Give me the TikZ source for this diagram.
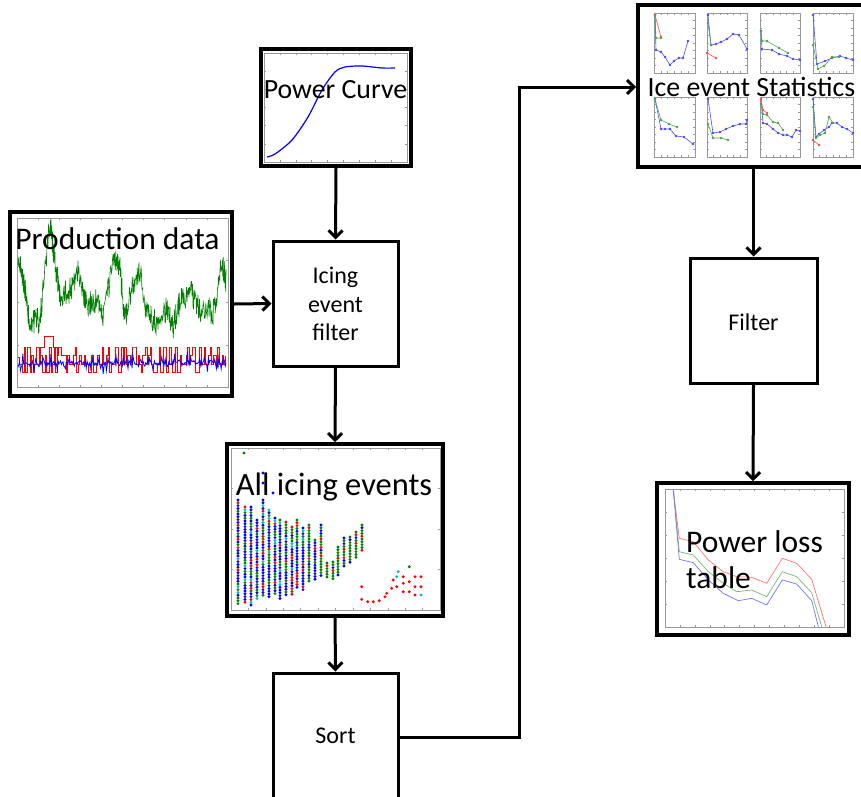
\documentclass[tikz,border=0pt]{standalone}
\usepackage{fontspec}
\setmainfont{Carlito}
\usetikzlibrary{arrows.meta}
\definecolor{pb}{rgb}{0,0,1}
\definecolor{pg}{rgb}{0,0.5,0}
\definecolor{pr}{rgb}{1,0,0}
\definecolor{pc}{rgb}{0,0.75,0.75}
\definecolor{framegray}{gray}{0.6}
\newcommand{\plotframe}[6]{%
  \draw[framegray,line width=0.6pt] (#1,#2) rectangle (#3,#4);
  \foreach \i in {1,...,#5}{%
    \pgfmathsetmacro\tx{#1+\i*(#3-#1)/(#5+1)}%
    \draw[framegray,line width=0.5pt] (\tx,#2) -- ++(0,2) (\tx,#4) -- ++(0,-2);}
  \foreach \i in {1,...,#6}{%
    \pgfmathsetmacro\ty{#2+\i*(#4-#2)/(#6+1)}%
    \draw[framegray,line width=0.5pt] (#1,\ty) -- ++(2,0) (#3,\ty) -- ++(-2,0);}
}
\tikzset{
  picbox/.style={draw=black,line width=3.6pt,rectangle,inner sep=0pt},
  procbox/.style={draw=black,line width=3pt,rectangle,inner sep=0pt,minimum width=125pt,minimum height=125pt},
  conn/.style={draw=black,line width=3pt,-{Straight Barb[length=7pt,width=14pt]}},
  bigtext/.style={inner sep=0pt,anchor=base,font=\fontsize{32}{36}\selectfont},
  smalltext/.style={inner sep=0pt,anchor=base,font=\fontsize{24}{29}\selectfont,align=center},
  mk/.style={mark=*,mark size=0.9pt}
}
\pgfmathsetseed{4242}
\pgfmathdeclarerandomlist{mix}{{pb}{pb}{pb}{pb}{pb}{pb}{pg}{pg}{pr}{pc}}
\pgfmathdeclarerandomlist{grn}{{pg}{pg}{pg}{pg}{pb}{pr}}
\begin{document}
\begin{tikzpicture}[x=1pt,y=-1pt]
\useasboundingbox (0,0) rectangle (861,796);

% ---------- Power Curve plot ----------
\plotframe{264}{53}{407}{162}{8}{5}
\draw[pb,line width=1.2pt] plot[smooth] coordinates {(267,157) (275,154) (292,140) (308,117) (322,90) (335,72) (345,67) (362,66) (382,68) (395,68)};

% ---------- Production data plot ----------
\plotframe{17}{218}{228}{387}{9}{3}
\draw[pg,line width=0.6pt] (18,257)
  \foreach \xa/\ya/\xb/\yb in {18/257/25/290,25/290/30/323,30/323/40/320,40/320/50/222,50/222/55/263,55/263/60/297,60/297/70/290,70/290/78/273,78/273/87/307,87/307/95/300,95/300/103/313,103/313/115/257,115/257/120/270,120/270/125/320,125/320/133/283,133/283/140/273,140/273/147/313,147/313/157/323,157/323/167/307,167/307/173/327,173/327/180/300,180/300/190/290,190/290/200/310,200/310/213/313,213/313/222/263,222/263/226/280}{
    \foreach \t in {0.05,0.1,...,1.01}{ -- ({\xa+\t*(\xb-\xa)},{\ya+\t*(\yb-\ya)+13*rand}) } };
\draw[pr,line width=0.6pt] (18,357)
  \foreach \i in {1,...,138}{ -| ({18+1.5*\i},{347+8.5*random(0,3)}) };
\draw[pr,line width=0.6pt] (40,357) -- (40,347) -- (44,347) -- (44,336) -- (53,336) -- (53,347) -- (57,347) -- (57,357);
\draw[pb,line width=0.8pt] plot[domain=18:226,samples=260] (\x,{363+2.5*rand+14*rand*rand*rand});

% ---------- All icing events scatter ----------
\plotframe{231}{448}{440}{610}{11}{3}
\foreach \cx/\ya/\yb/\lst in {238/500/605/mix,245/507/605/mix,251/507/606/mix,257/520/600/mix,263/500/597/mix,269/510/597/mix,275/518/595/mix,280/520/600/mix,286/522/597/mix,292/527/595/mix,297/520/590/mix,303/528/590/mix,309/525/582/grn,315/540/580/mix,321/525/577/grn,327/563/578/grn,333/562/580/grn,338/547/577/grn,344/538/568/grn,350/537/565/grn,356/532/560/grn,362/525/553/grn}{
  \pgfmathtruncatemacro\nn{(\yb-\ya)/2.8}
  \foreach \k in {0,...,\nn}{
    \pgfmathrandomitem{\cc}{\lst}
    \fill[\cc] (\cx,{\ya+2.8*\k}) circle (1.6pt);
  }
}
\foreach \px/\py/\cc in {244/453/pg,263/473/pb,263/483/pb,273/493/pb,238/492/pg,361.7/586.7/pr,361.7/599.3/pr,367.7/601.7/pr,373.3/601.7/pr,379.3/600.7/pr,385/596.7/pr,386.7/593.3/pr,391.7/588.3/pr,393.3/580/pr,396.7/586.7/pr,398.3/571.7/pc,396.7/576.7/pc,403.3/583.3/pr,403.3/576.7/pr,403.3/591.7/pr,409.3/566.7/pg,409.3/581.7/pr,409.3/591.7/pr,415/576.7/pr,415/586.7/pr,415/595/pr,421/576.7/pr,421/586.7/pr,421/595/pc}{
  \fill[\cc] (\px,\py) circle (1.6pt);
}

% ---------- Ice event statistics panels ----------
\begin{scope}[shift={(654,13)}]
  \plotframe{0}{0}{41}{60}{5}{7}
  \draw[pb!70,line width=0.6pt,mk] plot coordinates {(1,2) (2,37) (7,39) (11,44) (16,52) (20,48) (25,45) (29,45) (34,28)};
  \draw[pr!70,line width=0.6pt,mk] plot coordinates {(1,2) (7,24)};
  \draw[pg!70,line width=0.6pt,mk] plot coordinates {(1,3) (2,25) (7,25)};
\end{scope}
\begin{scope}[shift={(707,13)}]
  \plotframe{0}{0}{40}{60}{5}{7}
  \draw[pb!70,line width=0.6pt,mk] plot coordinates {(1,2) (4,32) (9,31) (14,29) (20,26) (26,21) (32,22) (40,36)};
  \draw[pg!70,line width=0.6pt,mk] plot coordinates {(1,10) (4,32)};
  \draw[pr!70,line width=0.6pt,mk] plot coordinates {(0,40) (9,45)};
\end{scope}
\begin{scope}[shift={(760,13)}]
  \plotframe{0}{0}{40}{60}{5}{7}
  \draw[pb!70,line width=0.6pt,mk] plot coordinates {(1,18) (2,36) (12,37) (19,41) (27,43) (33,46) (40,47)};
  \draw[pg!70,line width=0.6pt,mk] plot coordinates {(1,18) (2,28) (7,28) (19,35) (28,40)};
\end{scope}
\begin{scope}[shift={(813,13)}]
  \plotframe{0}{0}{40}{60}{5}{7}
  \draw[pb!70,line width=0.6pt,mk] plot coordinates {(0,2) (4,51) (12,48) (19,45) (27,43) (33,45) (40,47)};
  \draw[pg!70,line width=0.6pt,mk] plot coordinates {(0,32) (5,56) (11,53) (19,44) (26,44)};
\end{scope}
\begin{scope}[shift={(654,97)}]
  \plotframe{0}{0}{41}{60}{5}{7}
  \draw[pb!70,line width=0.6pt,mk] plot coordinates {(1,2) (7,32) (11,32) (16,32) (22,39) (30,40) (39,47)};
  \draw[pg!70,line width=0.6pt,mk] plot coordinates {(1,2) (7,23) (15,27) (23,30)};
\end{scope}
\begin{scope}[shift={(707,97)}]
  \plotframe{0}{0}{40}{60}{5}{7}
  \draw[pb!70,line width=0.6pt,mk] plot coordinates {(1,2) (6,36) (13,35) (19,32) (26,29) (33,27) (39,27) (40,23)};
  \draw[pg!70,line width=0.6pt,mk] plot coordinates {(1,27) (6,41) (14,41) (21,43)};
\end{scope}
\begin{scope}[shift={(760,97)}]
  \plotframe{0}{0}{40}{60}{5}{7}
  \draw[pb!70,line width=0.6pt,mk] plot coordinates {(1,2) (3,26) (7,27) (13,32) (18,36) (23,38) (27,38) (32,40) (36,33) (40,34)};
  \draw[pr!70,line width=0.6pt,mk] plot coordinates {(1,2) (3,13) (7,16)};
  \draw[pg!70,line width=0.6pt,mk] plot coordinates {(1,7) (3,17) (7,18) (13,25) (18,26) (23,33)};
\end{scope}
\begin{scope}[shift={(813,97)}]
  \plotframe{0}{0}{40}{60}{5}{7}
  \draw[pb!70,line width=0.6pt,mk] plot coordinates {(0,2) (3,40) (6,37) (11,33) (16,30) (19,26) (24,26) (29,30) (34,32) (40,36)};
  \draw[pg!70,line width=0.6pt,mk] plot coordinates {(0,10) (3,41) (7,38) (12,36) (16,20) (20,26)};
  \draw[pr!70,line width=0.6pt,mk] plot coordinates {(0,43) (6,48)};
\end{scope}

% ---------- Power loss table plot ----------
\plotframe{665}{489}{844}{627}{11}{5}
\draw[pr!55,line width=0.7pt] plot coordinates {(673.3,490) (679.3,538.3) (693.3,541.7) (708.3,560) (723.3,571.7) (736.7,576.7) (751.7,577.3) (766.7,583.3) (782.3,558.3) (796.7,563.3) (811.7,579.3) (826,626.7)};
\draw[pg!55,line width=0.7pt] plot coordinates {(673.3,490) (679.3,551.7) (693.3,555) (708.3,571.7) (723.3,583.3) (736.7,591.7) (751.7,590) (766.7,596.7) (782.3,571.7) (796.7,576.7) (811.7,592.7) (821.7,626.7)};
\draw[pb!55,line width=0.7pt] plot coordinates {(673.3,490) (679.3,559.3) (693.3,562.7) (708.3,580) (723.3,593.3) (738.3,600.7) (751.7,598.3) (766.7,605) (782.3,580) (796.7,584) (811.7,600.7) (818.3,626.7)};

% ---------- boxes ----------
\node[picbox,minimum width=150pt,minimum height=117pt] (pc) at (336,107.5) {};
\node[picbox,minimum width=222pt,minimum height=184pt] (prod) at (121,304) {};
\node[picbox,minimum width=216pt,minimum height=172pt] (allice) at (335,530) {};
\node[picbox,minimum width=229pt,minimum height=162pt] (ice) at (752.5,86) {};
\node[picbox,minimum width=192pt,minimum height=152pt] (loss) at (753,559) {};
\node[procbox] (filt) at (335.5,303.5) {};
\node[procbox,minimum height=128pt] (sort) at (335.5,737) {};
\node[procbox,minimum width=127pt] (filtR) at (753.5,320.5) {};

% ---------- texts ----------
\node[bigtext,font=\fontsize{27.8}{30}\selectfont] (pct) at (335.5,98) {Power Curve};
\node[bigtext,font=\fontsize{31.5}{36}\selectfont] (prodt) at (117.5,249) {Production data};
\node[bigtext,font=\fontsize{32.5}{36}\selectfont] (allt) at (334,495) {All icing events};
\node[bigtext,font=\fontsize{27.8}{30}\selectfont] (icet) at (751.5,96) {Ice event Statistics};
\node[bigtext,anchor=base west,font=\fontsize{31.5}{36}\selectfont] (losst) at (686,552) {Power loss};
\node[bigtext,anchor=base west,font=\fontsize{31.5}{36}\selectfont] (losst2) at (686,588) {table};
\node[smalltext] (filtt1) at (335.5,283) {Icing};
\node[smalltext] (filtt2) at (335.5,312) {event};
\node[smalltext] (filtt3) at (335.5,340) {filter};
\node[smalltext] (sortt) at (335.5,743) {Sort};
\node[smalltext] (filtRt) at (753.5,330) {Filter};

% ---------- connectors ----------
\coordinate (turn) at (519,87);
\draw[conn] (pc.south) -- (filt.north);
\draw[conn] (prod.east) -- (filt.west);
\draw[conn] (filt.south) -- (allice.north);
\draw[conn] (allice.south) -- (sort.north);
\draw[conn] (sort.east) -- (sort.east -| turn) -- (turn) -- (ice.west |- turn);
\draw[conn] (filtR.north |- ice.south) -- (filtR.north);
\draw[conn] (filtR.south) -- (loss.north);
\end{tikzpicture}
\end{document}
